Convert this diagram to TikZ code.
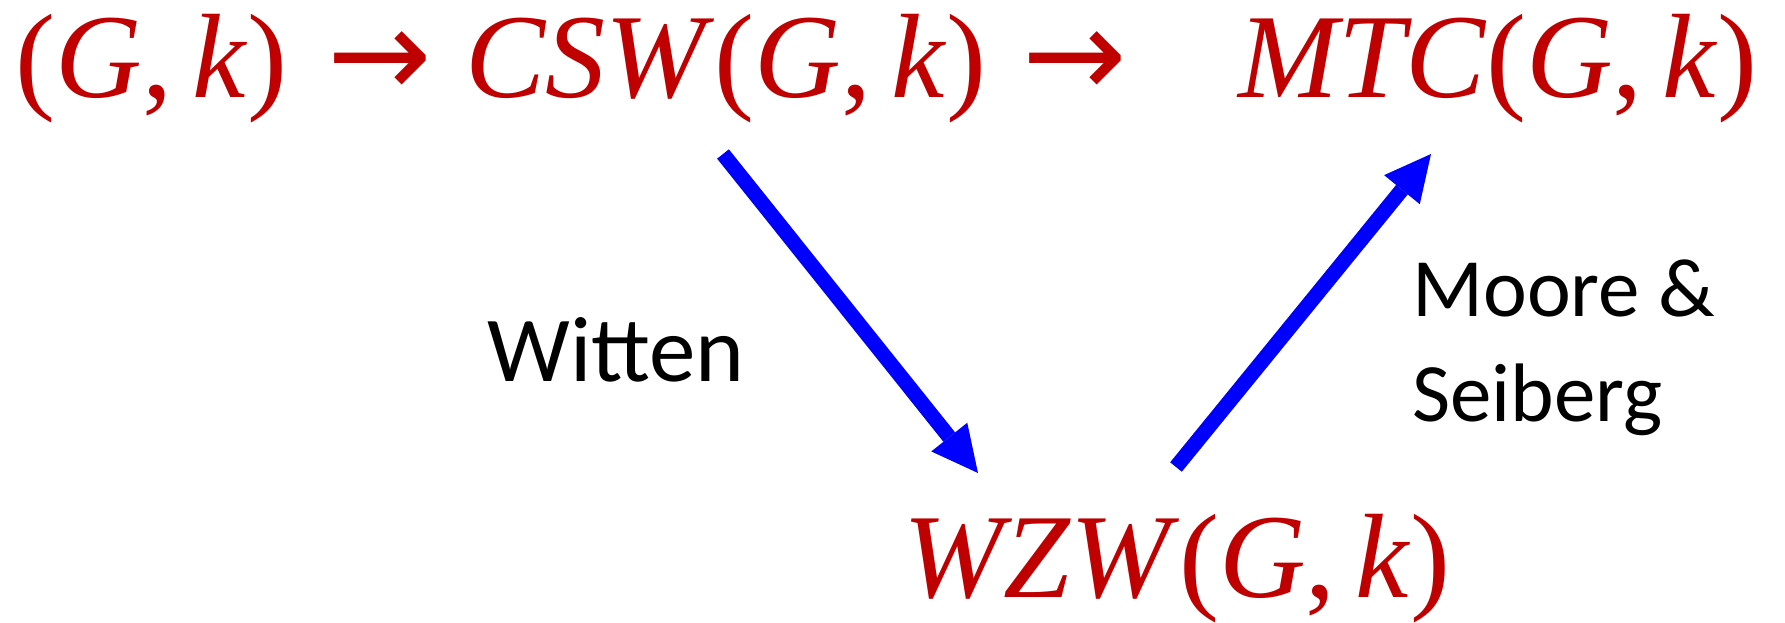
\documentclass[tikz,border=0pt]{standalone}
\usepackage{fontspec}
\setmainfont{Carlito}
\newfontfamily\eqfont{Liberation Serif}
\newfontfamily\arrfont{DejaVu Sans}
\usetikzlibrary{arrows.meta,positioning,calc}
\definecolor{eqred}{HTML}{C00000}
\definecolor{flowblue}{HTML}{0000FF}
\newcommand{\Gk}{(\textit{G},\,\textit{k\/})}

\begin{document}
\begin{tikzpicture}[x=0.5pt, y=-0.5pt,
        eq/.style={inner sep=0, anchor=base west, text=eqred, font=\eqfont\fontsize{60}{72}\selectfont},
        eqarrow/.style={inner sep=0, anchor=base, text=eqred, font=\arrfont\fontsize{62.5}{75}\selectfont},
        lbl/.style={inner sep=0, anchor=base west, font=\fontsize{41.5}{50}\selectfont},
        flow/.style={draw=flowblue, line width=7.5pt, -{Triangle[length=23pt, width=23pt, line width=0pt]}, fill=flowblue}]

    \useasboundingbox (0,0) rectangle (1785,622);

    % top row of the chain
    \node[eq] (triv) at (15,97) {\Gk};
    \node[eqarrow] (to1) at (380,97) {→};
    \node[eq] (csw) at (465,97) {\textit{CSW\/}\Gk};
    \node[eqarrow] (to2) at (1075,97) {→};
    \node[eq] (mtc) at (1238,97) {\textit{MTC\/}\Gk};

    % bottom
    \node[eq] (wzw) at (903,597) {\textit{WZW\/}\Gk};

    \node[lbl, font=\fontsize{46.5}{56}\selectfont] (witten) at (487,381) {Witten};
    \node[lbl] (moore) at (1412,316) {Moore \&};
    \node[lbl] (seiberg) at (1412,421) {Seiberg};

    \draw[flow] ($(csw.base west)+(258,57)$) -- ($(wzw.base west)+(75,-124)$);
    \draw[flow] ($(wzw.base west)+(273,-130)$) -- ($(mtc.base west)+(193,57)$);

\end{tikzpicture}
\end{document}
